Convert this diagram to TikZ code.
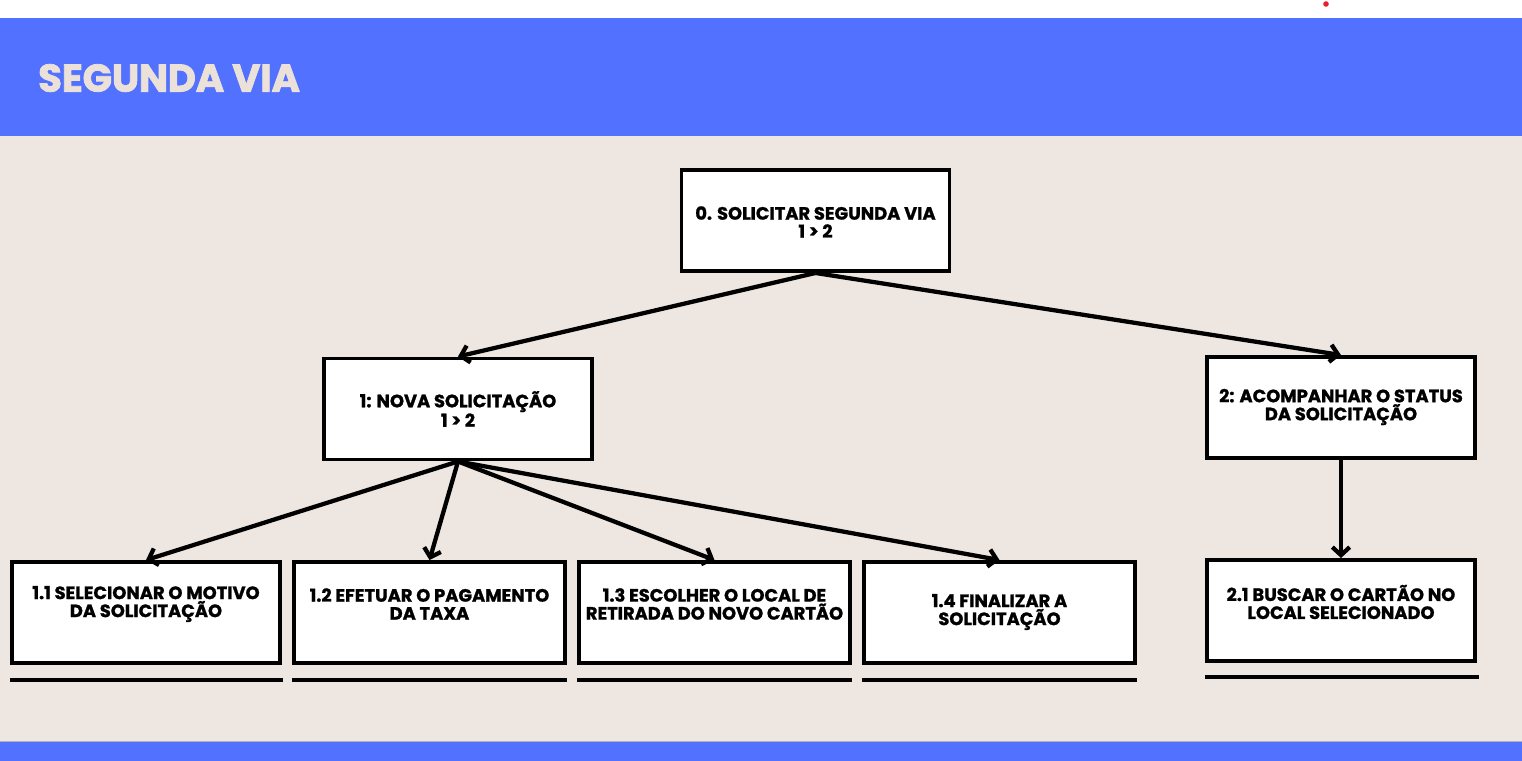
\documentclass[tikz,border=0pt]{standalone}
\usepackage{fontspec}
\setmainfont{Poppins}
\newfontfamily\titlefont{Poppins}[LetterSpace=-0.5,BoldFeatures={FakeBold=2}]
\newfontfamily\boxfont{Poppins}[BoldFeatures={FakeBold=1.2}]
\usetikzlibrary{arrows.meta}
\definecolor{bandblue}{HTML}{5271FF}
\definecolor{bg}{HTML}{EEE7E1}
\definecolor{titlecol}{HTML}{EBE1D9}
\definecolor{reddot}{HTML}{E8202A}
\tikzset{
  box/.style={draw=black, fill=white, line width=2.7pt, minimum width=201pt, minimum height=76pt, inner sep=0pt},
  widebox/.style={box, minimum width=203.6pt},
  txt/.style={align=center, inner sep=0pt, font=\boxfont\bfseries\fontsize{13.4}{13.5}\selectfont},
  link/.style={line width=3.2pt, -{Straight Barb[length=6pt,width=13pt]}},
  uline/.style={line width=3pt}
}
\begin{document}
\begin{tikzpicture}[x=0.75pt,y=-0.75pt]
\useasboundingbox (0,0) rectangle (1522,761);
% backgrounds
\fill[white] (0,0) rectangle (1522,18);
\fill[bandblue] (0,18) rectangle (1522,136);
\fill[bg] (0,136) rectangle (1522,741);
\fill[bandblue] (0,741) rectangle (1522,761);
\draw[line width=0.75pt, color=gray!60] (0,741) -- (1522,741);
\fill[reddot] (1326,4) circle (2.8);
% title
\node[anchor=west, inner sep=0pt, text=titlecol, font=\titlefont\bfseries\fontsize{29}{29}\selectfont] (title) at (38,78) {SEGUNDA VIA};
% boxes
\node[box] (b0) at (815.5,220.5) {};
\node[box] (b1) at (458,409) {};
\node[box] (b2) at (1341,407.5) {};
\node[box] (b11) at (146,612.5) {};
\node[widebox] (b12) at (429.5,612.5) {};
\node[widebox] (b13) at (714.5,612.5) {};
\node[widebox] (b14) at (999.5,612.5) {};
\node[box] (b21) at (1341,610.5) {};
% texts
\node[txt] (t0) at (815.5,222) {0. SOLICITAR SEGUNDA VIA\\1 > 2};
\node[txt] (t1) at (458,409) {1: NOVA SOLICITAÇÃO\\1 > 2};
\node[txt] (t2) at (1341,407) {2: ACOMPANHAR O STATUS\\DA SOLICITAÇÃO};
\node[txt] (t11) at (146,604) {1.1 SELECIONAR O MOTIVO\\DA SOLICITAÇÃO};
\node[txt] (t12) at (429.5,604) {1.2 EFETUAR O PAGAMENTO\\DA TAXA};
\node[txt] (t13) at (714.5,604) {1.3 ESCOLHER O LOCAL DE\\RETIRADA DO NOVO CARTÃO};
\node[txt] (t14) at (999.5,612) {1.4 FINALIZAR A\\SOLICITAÇÃO};
\node[txt] (t21) at (1341,602) {2.1 BUSCAR O CARTÃO NO\\LOCAL SELECIONADO};
% underlines
\coordinate (u11a) at (10,680); \coordinate (u11b) at (283,680);
\coordinate (u12a) at (292,680); \coordinate (u12b) at (567,680);
\coordinate (u13a) at (577,680); \coordinate (u13b) at (852,680);
\coordinate (u14a) at (862,680); \coordinate (u14b) at (1137,680);
\coordinate (u21a) at (1205,677); \coordinate (u21b) at (1479,677);
\draw[uline] (u11a) -- (u11b);
\draw[uline] (u12a) -- (u12b);
\draw[uline] (u13a) -- (u13b);
\draw[uline] (u14a) -- (u14b);
\draw[uline] (u21a) -- (u21b);
% connectors
\draw[link] (b0.south) -- (b1.north);
\draw[link] (b0.south) -- (b2.north);
\draw[link] (b1.south) -- (b11.north);
\draw[link] (b1.south) -- (b12.north);
\draw[link] (b1.south) -- (b13.north);
\draw[link] (b1.south) -- (b14.north);
\draw[link] (b2.south) -- (b21.north);
\end{tikzpicture}
\end{document}
